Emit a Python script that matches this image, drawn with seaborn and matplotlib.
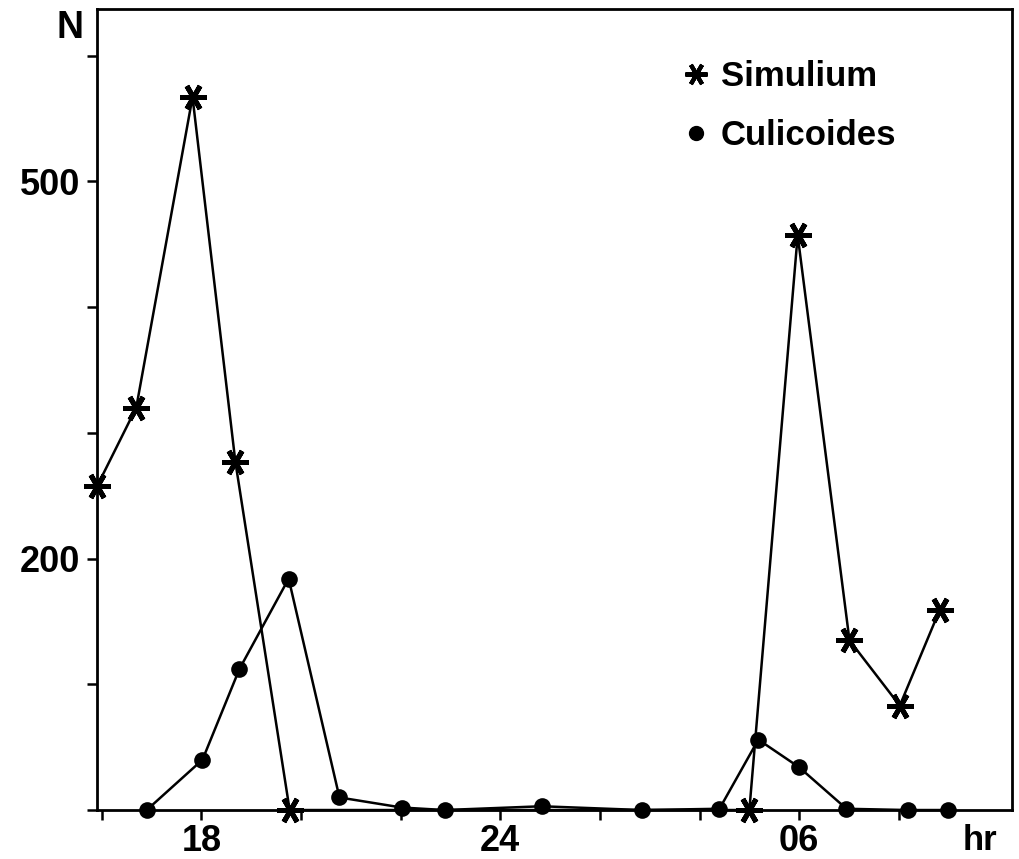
import numpy as np
import pandas as pd
import matplotlib
matplotlib.use('Agg')
import matplotlib.pyplot as plt
from matplotlib.lines import Line2D
from matplotlib.markers import MarkerStyle
import seaborn as sns

# hours counted from 18 on; 30 = 06 next morning
simulium_hr = [15.91, 16.69, 17.82, 18.68, 19.77, 29.0, 29.97, 31.01, 32.02, 32.82]
simulium_n = [258, 320, 567, 277, 0, 0, 457, 135, 83, 159]

culicoides_hr = [16.9, 18.02, 18.76, 19.75, 20.77, 22.02, 22.88, 24.83, 26.84,
                 28.4, 29.18, 30.0, 30.95, 32.18, 32.98]
culicoides_n = [0, 40, 112, 184, 10, 2, 0, 3, 0, 1, 56, 34, 1, 0, 0]

x_ticks = [16, 18, 20, 22, 24, 26, 28, 30, 32]
x_labels = {18: '18', 24: '24', 30: '06'}
y_ticks = [0, 100, 200, 300, 400, 500, 600]
y_labels = {200: '200', 500: '500'}

sns.set_theme(style='white')
plt.rcParams['font.family'] = ['Liberation Sans', 'DejaVu Sans']
plt.rcParams['font.weight'] = 'bold'
plt.rcParams['text.color'] = 'black'

df_s = pd.DataFrame({'hr': simulium_hr, 'N': simulium_n})
df_c = pd.DataFrame({'hr': culicoides_hr, 'N': culicoides_n})

fig = plt.figure(figsize=(10.2, 8.59), dpi=100)
ax = fig.add_axes([0.095, 0.057, 0.897, 0.9325])

asterisk = MarkerStyle((6, 2, 90), capstyle='round')
sns.lineplot(data=df_c, x='hr', y='N', color='black', linewidth=1.8,
             marker='o', markersize=12, markeredgewidth=0, ax=ax, zorder=3)
sns.lineplot(data=df_s, x='hr', y='N', color='black', linewidth=1.8,
             marker=asterisk, markersize=19, markeredgewidth=3.6,
             markeredgecolor='black', ax=ax, zorder=4)
for line in ax.lines:
    line.set_clip_on(False)

ax.set_xlim(15.9, 34.27)
ax.set_ylim(0, 637)

ax.set_xticks(x_ticks)
ax.set_xticklabels([x_labels.get(t, '') for t in x_ticks])
ax.set_yticks(y_ticks)
ax.set_yticklabels([y_labels.get(t, '') for t in y_ticks])
ax.tick_params(axis='both', direction='out', length=7, width=1.8,
               labelsize=26, color='black', labelcolor='black', pad=5,
               bottom=True, left=True)
ax.tick_params(axis='x', pad=3)
for lab in ax.get_xticklabels() + ax.get_yticklabels():
    lab.set_fontweight('bold')

for sp in ax.spines.values():
    sp.set_color('black')
    sp.set_linewidth(2)

ax.set_xlabel('')
ax.set_ylabel('')

fig.text(70 / 1020, 1 - 28 / 859, 'N', fontsize=27, fontweight='bold',
         ha='center', va='center')
fig.text(980 / 1020, 2 / 859, 'hr', fontsize=25, fontweight='bold',
         ha='center', va='bottom')

handles = [
    Line2D([], [], color='black', linestyle='none', marker=asterisk,
           markersize=16, markeredgewidth=3),
    Line2D([], [], color='black', linestyle='none', marker='o',
           markersize=10),
]
ax.legend(handles, ['Simulium', 'Culicoides'], loc='upper left',
          bbox_to_anchor=(0.621, 0.958), frameon=False,
          prop={'weight': 'bold', 'size': 25}, handlelength=0.8,
          handletextpad=0.3, labelspacing=0.75, borderpad=0)

fig.savefig('out.png', dpi=100)
